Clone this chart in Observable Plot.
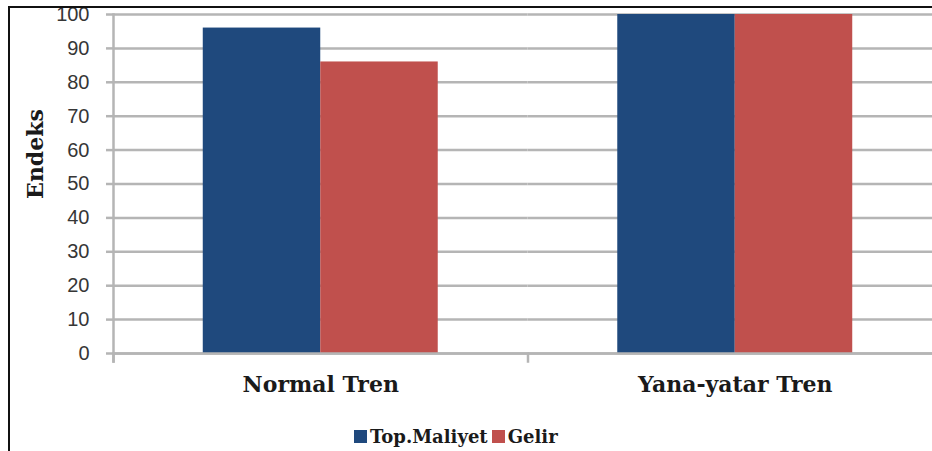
<!DOCTYPE html>
<html>
<head>
<meta charset="utf-8">
<script src="https://cdn.jsdelivr.net/npm/d3@7"></script>
<script src="https://cdn.jsdelivr.net/npm/@observablehq/plot@0.6"></script>
<style>
  html, body { margin: 0; padding: 0; background: #fff; }
  #wrap { position: relative; width: 932px; height: 451px; overflow: hidden; background: #fff; }
  #wrap .edge { position: absolute; left: 8px; top: 6px; right: -10px; bottom: -10px;
    border-top: 2px solid #111; border-left: 2px solid #111; pointer-events: none; }
  #chart { position: absolute; left: 0; top: 0; }
  #legend { position: absolute; left: 354px; top: 426px; display: flex; align-items: center;
    font-family: "DejaVu Serif", serif; font-weight: bold; font-size: 18px; color: #1a1a1a; }
  #legend .sw { width: 13px; height: 13px; margin-right: 3px; }
  #legend .item { display: flex; align-items: center; margin-right: 4px; }
</style>
</head>
<body>
<div id="wrap">
  <div id="chart"></div>
  <div id="legend"></div>
  <div class="edge"></div>
</div>
<script>
// Index values for each train type
const categories = ["Normal Tren", "Yana-yatar Tren"];
const seriesNames = ["Top.Maliyet", "Gelir"];
const topMaliyet = [96, 100];
const gelir = [86, 100];
const yTicks = [0, 10, 20, 30, 40, 50, 60, 70, 80, 90, 100];
const seriesColors = ["#1f497d", "#c0504d"];
const yLabel = "Endeks";

const rows = categories.flatMap((category, i) => [
  {category, series: seriesNames[0], value: topMaliyet[i]},
  {category, series: seriesNames[1], value: gelir[i]}
]);

const gridColor = "#b5b5b5";
const serif = "DejaVu Serif, serif";

const chart = Plot.plot({
  width: 932,
  height: 410,
  marginLeft: 113,
  marginRight: -10,
  marginTop: 14,
  marginBottom: 57,
  style: {background: "transparent", fontFamily: "Liberation Sans, Arial, sans-serif"},
  fx: {domain: categories, paddingInner: 0, paddingOuter: 0, round: false},
  x: {domain: seriesNames, paddingInner: 0, paddingOuter: 0.764, round: false, axis: null},
  y: {domain: [0, 100], axis: null},
  color: {domain: seriesNames, range: seriesColors},
  marks: [
    Plot.gridY(yTicks, {stroke: gridColor, strokeOpacity: 1, strokeWidth: 2.5}),
    Plot.axisY({ticks: yTicks, tickSize: 7, tickPadding: 17, stroke: gridColor, strokeWidth: 2.5,
      fill: "#363636", fontSize: 20, label: null}),
    Plot.frame({anchor: "left", facetAnchor: "left", stroke: gridColor, strokeWidth: 2.5, insetBottom: -8}),
    Plot.frame({anchor: "left", stroke: gridColor, strokeWidth: 2.5, insetTop: 339, insetBottom: -8}),
    Plot.barY(rows, {fx: "category", x: "series", y: "value", fill: "series"}),
    Plot.ruleY([0], {stroke: gridColor, strokeWidth: 2.5}),
    Plot.axisFx({anchor: "bottom", tickSize: 0, tickPadding: 23, fontSize: 22, fontWeight: "bold",
      fontFamily: serif, fill: "#1a1a1a", label: null}),
    Plot.text([yLabel], {frameAnchor: "left", facetAnchor: "left", textAnchor: "middle",
      dx: -78, dy: -30, rotate: -90,
      fontSize: 22, fontWeight: "bold", fontFamily: serif, fill: "#1a1a1a"})
  ]
});
document.getElementById("chart").appendChild(chart);

// Legend below the chart
const legend = document.getElementById("legend");
seriesNames.forEach((name, i) => {
  const item = document.createElement("div");
  item.className = "item";
  const sw = document.createElement("div");
  sw.className = "sw";
  sw.style.background = seriesColors[i];
  const label = document.createElement("span");
  label.textContent = name;
  item.appendChild(sw);
  item.appendChild(label);
  legend.appendChild(item);
});
</script>
</body>
</html>
